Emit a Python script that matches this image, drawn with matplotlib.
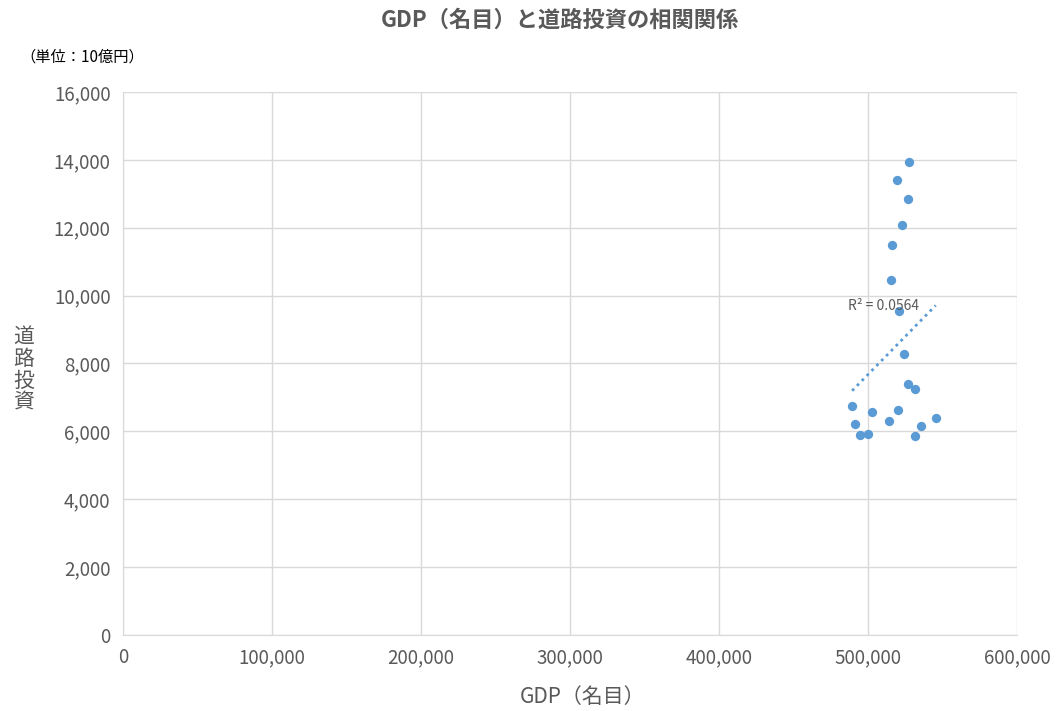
import matplotlib.pyplot as plt
import numpy as np

plt.rcParams['font.family'] = ['Noto Sans CJK JP', 'DejaVu Sans']

# GDP（名目）と道路投資（単位：10億円）
gdp = [527500, 519700, 526600, 523000, 515900, 515200, 520800, 524200, 526600, 531500,
       489300, 502900, 520300, 491300, 513900, 545400, 535400, 494800, 500200, 531300]
road = [13950, 13400, 12850, 12090, 11490, 10450, 9560, 8290, 7400, 7260,
        6760, 6580, 6640, 6230, 6320, 6400, 6160, 5900, 5910, 5860]

x = np.array(gdp)
y = np.array(road)
k, b = np.polyfit(x, y, 1)
r2 = np.corrcoef(x, y)[0, 1] ** 2

fig = plt.figure(figsize=(10.57, 7.11), dpi=100)
ax = fig.add_axes([0.1164, 0.1069, 0.8458, 0.7637])

ax.scatter(x, y, s=45, color='#5b9bd5', zorder=3, linewidths=0)
xs = np.array([x.min(), x.max()])
ax.plot(xs, k * xs + b, color='#5b9bd5', linestyle=(0, (1, 1.5)), linewidth=2, zorder=2)
ax.text(486500, 9700, 'R² = 0.0564', fontsize=10, color='#595959', va='center', zorder=4)

ax.set_xlim(0, 600000)
ax.set_ylim(0, 16000)
ax.set_xticks(range(0, 600001, 100000))
ax.set_yticks(range(0, 16001, 2000))
ax.xaxis.set_major_formatter(plt.FuncFormatter(lambda v, p: f'{int(v):,}'))
ax.yaxis.set_major_formatter(plt.FuncFormatter(lambda v, p: f'{int(v):,}'))
ax.grid(True, color='#d9d9d9', linewidth=1)
ax.set_axisbelow(True)
for s in ['top', 'right']:
    ax.spines[s].set_visible(False)
ax.spines['left'].set_color('#d9d9d9')
ax.spines['bottom'].set_color('#d9d9d9')
ax.tick_params(length=0, labelsize=13.5, labelcolor='#595959', pad=9)

fig.text(0.53, 0.972, 'GDP（名目）と道路投資の相関関係', ha='center', va='center',
         fontsize=16, fontweight='bold', color='#595959')
fig.text(0.019, 0.92, '（単位：10億円）', ha='left', va='center', fontsize=11, color='#000000')
fig.text(0.022, 0.48, '道\n路\n投\n資', ha='center', va='center', fontsize=15,
         color='#595959', linespacing=1.0)
fig.text(0.551, 0.02, 'GDP（名目）', ha='center', va='center', fontsize=15, color='#595959')

fig.savefig('out.png', dpi=100)
